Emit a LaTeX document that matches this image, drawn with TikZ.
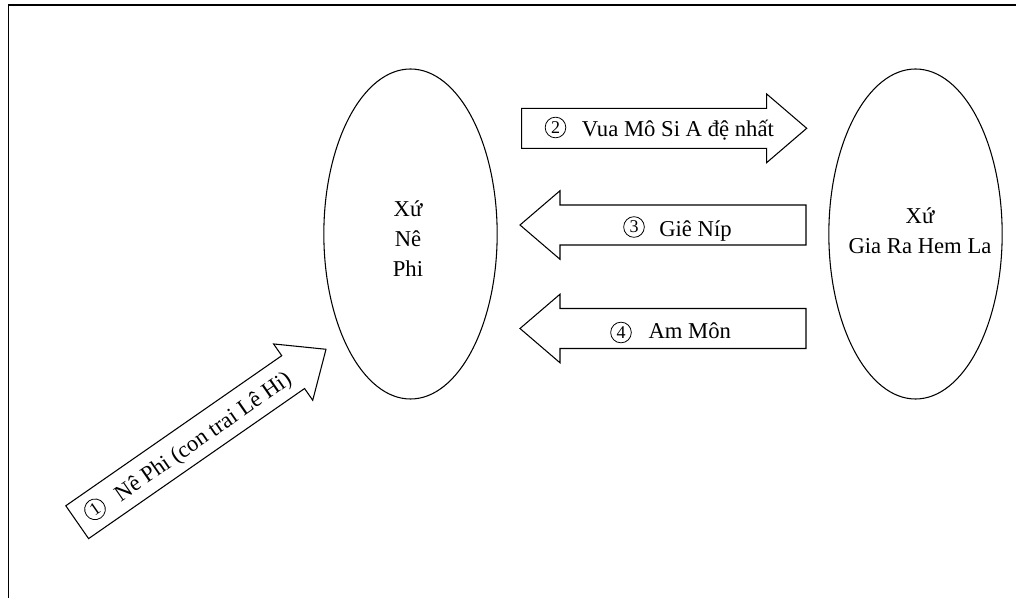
\documentclass[tikz,border=0pt]{standalone}
\usepackage{fontspec}
\setmainfont{Liberation Serif}
\usetikzlibrary{shapes.geometric}

% block arrow of a given length, shaft 40 wide, head 68.6 wide and 40 long
\tikzset{
  pics/blockarr/.style={code={
    \draw[blockarrow] (0,-20) -- (#1-40,-20) -- (#1-40,-34.3) -- (#1,0)
      -- (#1-40,34.3) -- (#1-40,20) -- (0,20) -- cycle;
  }},
}

\begin{document}
\begin{tikzpicture}[x=0.75pt,y=-0.75pt,
  region/.style={ellipse, draw, line width=0.8pt, minimum width=130pt,
    minimum height=247.5pt, inner sep=0pt},
  regiontext/.style={align=center, inner sep=0pt,
    font=\fontsize{17}{22.5}\selectfont},
  flowlabel/.style={inner sep=0pt, anchor=base west,
    font=\fontsize{17}{20}\selectfont},
  stepno/.style={circle, draw, line width=0.6pt, minimum size=15.5pt,
    inner sep=0pt, font=\fontsize{13.5}{13.5}\selectfont},
  blockarrow/.style={draw, line width=0.8pt, fill=white, line join=miter},
  frameline/.style={line width=1.2pt}]
\useasboundingbox (0,0) rectangle (1016,598);

% frame
\draw[frameline] (8.5,598) -- (8.5,5) -- (1016,5);

% the two lands
\node[region] (nephi) at (410.5,234) {};
\node[region] (zara) at (915.5,234) {};
\node[regiontext] (nephiname) at (408,239) {Xứ\\Nê\\Phi};
\node[regiontext] (zaraname) at (920,231) {Xứ\\Gia Ra Hem La};

% journeys
\pic[shift={(77.2,522.2)}, rotate=34.8] {blockarr=303};
\pic[shift={(521.7,128.3)}] {blockarr=285};
\pic[shift={(806,225)}, rotate=180] {blockarr=286};
\pic[shift={(806,328.5)}, rotate=180] {blockarr=286};

% numbers and names of the journeys
\node[stepno, rotate=34.8] (n1) at (95,509.3) {1};
\node[flowlabel, rotate=34.8] (j1) at (120.6,502.4)
  {Nê Phi (con trai Lê Hi)};
\node[stepno] (n2) at (555.5,127.5) {2};
\node[flowlabel] (j2) at (581.7,137) {Vua Mô Si A đệ nhất};
\node[stepno] (n3) at (634,227) {3};
\node[flowlabel] (j3) at (659,237) {Giê Níp};
\node[stepno] (n4) at (621,332.5) {4};
\node[flowlabel] (j4) at (648.3,339) {Am Môn};
\end{tikzpicture}
\end{document}
